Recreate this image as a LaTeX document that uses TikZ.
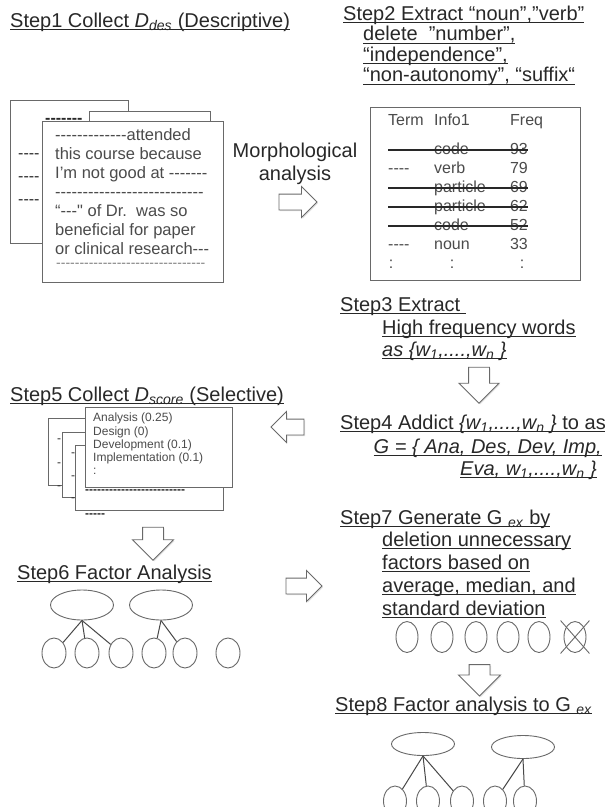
\documentclass[tikz,border=0pt]{standalone}
\usepackage{fontspec}
\setmainfont[Ligatures=TeXOff]{Liberation Sans}
\usetikzlibrary{shapes.geometric, shapes.arrows, shapes.misc, shadows}
\definecolor{ink}{RGB}{40,40,40}
\definecolor{pen}{RGB}{105,105,105}
\definecolor{txtg}{RGB}{75,75,75}
\newcommand{\ulin}[1]{\setbox0=\hbox{#1}\rlap{\rule[-3.4pt]{\wd0}{1.1pt}}\box0}
\newcommand{\wsub}[1]{\textit{w}\textsubscript{\textit{#1}}}
\tikzset{
  ttl/.style  ={anchor=base west, inner sep=0, text=ink, font=\fontsize{20}{23}\selectfont},
  shd/.style  ={drop shadow={shadow xshift=1.2pt, shadow yshift=-1.2pt, opacity=0.22}},
  ppr/.style  ={rectangle, draw=pen, fill=white, line width=0.9pt, inner sep=0, shd},
  ptxt/.style ={anchor=north west, inner sep=0, text=txtg, align=left},
  dsh/.style  ={anchor=base west, inner sep=0, text=ink, font=\fontsize{16}{18}\selectfont},
  cell/.style ={inner sep=0, text=txtg, font=\fontsize{16}{18}\selectfont, text height=11pt, text depth=3pt},
  harr/.style ={single arrow, draw=pen, fill=white, line width=0.9pt,
                single arrow head indent=0pt, shd},
  fac/.style  ={ellipse, draw=pen, line width=0.9pt, inner sep=0, minimum width=63pt, minimum height=30pt},
  obs/.style  ={ellipse, draw=pen, line width=0.9pt, inner sep=0, minimum width=24pt, minimum height=30pt},
  ln/.style   ={draw=ink!85, line width=1pt},
  strk/.style ={draw=ink, line width=1.2pt},
}

\begin{document}
\begin{tikzpicture}[x=1pt, y=-1pt]
\useasboundingbox (0,0) rectangle (605,807);
\fill[white] (0,0) rectangle (605,807);

\node[ttl] (s1) at (10,27) {\ulin{Step1 Collect \textit{D}\textsubscript{\textit{des}} (Descriptive)}};
\node[ppr, minimum width=118pt, minimum height=143pt] (pa) at (69,171.5) {};
\node[dsh] (pad1) at (18,158) {----};
\node[dsh] (pad2) at (18,181) {----};
\node[dsh] (pad3) at (18,204) {----};
\node[ppr, minimum width=121pt, minimum height=159pt] (pb) at (149.5,190.5) {};
\node[dsh, font=\bfseries\fontsize{16}{18}\selectfont] (pbd) at (45,123) {-------};
\node[ppr, minimum width=181pt, minimum height=161pt] (pc) at (132.5,201.5) {};
\node[ptxt, font=\fontsize{16.5}{19}\selectfont] (pct) at (55,128) {-------------attended\\
this course because\\
I’m not good at -------\\
---------------------------\\
“---" of Dr.\ \ was so\\
beneficial for paper\\
or clinical research---};
\node[ptxt, text=gray, font=\fontsize{14}{16}\selectfont] (pcl) at (56,263) {--------------------------------};

\node[anchor=north, inner sep=0, align=center, text=ink, font=\fontsize{20}{23}\selectfont] (morph) at (295,143) {Morphological\\analysis};
\node[harr, inner sep=7.5pt, minimum height=38pt, single arrow head extend=7.5pt] (a1) at (294,202) {};

\node[ttl] (s2a) at (343,20) {\ulin{Step2 Extract “noun”,”verb”}};
\node[ttl] (s2b) at (363,40.5) {\ulin{delete\ \ ”number”,}};
\node[ttl] (s2c) at (363,61) {\ulin{“independence”,}};
\node[ttl] (s2d) at (363,81.5) {\ulin{“non-autonomy”, “suffix“}};
\node[ppr, minimum width=210pt, minimum height=173pt] (tb) at (475,193.5) {};
\node[cell, anchor=west] (h1) at (388,121) {Term};
\node[cell, anchor=west] (h2) at (434,121) {Info1};
\node[cell, anchor=west] (h3) at (510,121) {Freq};
\node[cell, anchor=west] (d1) at (388,150) {----};
\node[cell, anchor=west] (w1) at (434,150) {code};
\node[cell, anchor=east] (n1) at (528,150) {93};
\node[cell, anchor=west] (d2) at (388,169) {----};
\node[cell, anchor=west] (w2) at (434,169) {verb};
\node[cell, anchor=east] (n2) at (528,169) {79};
\node[cell, anchor=west] (d3) at (388,188) {----};
\node[cell, anchor=west] (w3) at (434,188) {particle};
\node[cell, anchor=east] (n3) at (528,188) {69};
\node[cell, anchor=west] (d4) at (388,207) {----};
\node[cell, anchor=west] (w4) at (434,207) {particle};
\node[cell, anchor=east] (n4) at (528,207) {62};
\node[cell, anchor=west] (d5) at (388,226) {----};
\node[cell, anchor=west] (w5) at (434,226) {code};
\node[cell, anchor=east] (n5) at (528,226) {52};
\node[cell, anchor=west] (d6) at (388,245) {----};
\node[cell, anchor=west] (w6) at (434,245) {noun};
\node[cell, anchor=east] (n6) at (528,245) {33};
\node[cell] (e1) at (391,264) {:};
\node[cell] (e2) at (452,264) {:};
\node[cell] (e3) at (522,264) {:};
\draw[strk] (d1.west) -- (n1.east);
\draw[strk] (d3.west) -- (n3.east);
\draw[strk] (d4.west) -- (n4.east);
\draw[strk, line width=1.6pt] (d5.west) -- (n5.east);

\node[ttl] (s3a) at (340,311) {\ulin{Step3 Extract\ }};
\node[ttl] (s3b) at (382,334) {\ulin{High frequency words}};
\node[ttl] (s3c) at (382,356) {\ulin{\textit{as \{\wsub{1},....,\wsub{n} \}}}};
\node[harr, shape border rotate=270, inner sep=10pt, minimum height=36pt, single arrow head extend=9.5pt] (a2) at (479,380) {};

\node[ttl] (s4a) at (340,429) {\ulin{Step4 Addict \textit{\{\wsub{1},....,\wsub{n} \}} to as}};
\node[ttl, anchor=base east] (s4b) at (602,453) {\ulin{\textit{G = \{ Ana, Des, Dev, Imp,}}};
\node[ttl, anchor=base east] (s4c) at (597,475) {\ulin{\textit{Eva, \wsub{1},....,\wsub{n} \}}}};
\node[harr, shape border rotate=180, inner sep=7.5pt, minimum height=33pt, single arrow head extend=7.5pt] (a3) at (291.5,427) {};

\node[ttl] (s5) at (10,401) {\ulin{Step5 Collect \textit{D}\textsubscript{\textit{score}} (Selective)}};
\node[ppr, minimum width=152pt, minimum height=67pt] (qa) at (124,451.5) {};
\node[dsh, font=\fontsize{12}{14}\selectfont] (qat1) at (57,442) {-};
\node[dsh, font=\fontsize{12}{14}\selectfont] (qat2) at (57,466) {-};
\node[dsh, font=\fontsize{12}{14}\selectfont] (qat3) at (57,489) {-};
\node[ppr, minimum width=148pt, minimum height=65pt] (qb) at (136,464.5) {};
\node[dsh, font=\fontsize{12}{14}\selectfont] (qbt1) at (71,456) {-};
\node[dsh, font=\fontsize{12}{14}\selectfont] (qbt2) at (71,479) {-};
\node[dsh, font=\fontsize{12}{14}\selectfont] (qbt3) at (71,501) {-};
\node[ppr, minimum width=148pt, minimum height=65pt] (qc) at (149,477.5) {};
\node[dsh, font=\bfseries\fontsize{12}{14}\selectfont] (qcd) at (85,493) {-------------------------};
\node[dsh, font=\bfseries\fontsize{12}{14}\selectfont] (qce) at (85,517) {-----};
\node[ppr, minimum width=147pt, minimum height=80pt] (qd) at (158.5,447) {};
\node[ptxt, font=\fontsize{12}{13.2}\selectfont] (qdt) at (93,413) {Analysis (0.25)\\
Design (0)\\
Development (0.1)\\
Implementation (0.1)\\
:};
\node[harr, shape border rotate=270, inner sep=10pt, minimum height=33pt, single arrow head extend=10pt] (a4) at (153,538.5) {};

\node[ttl] (s6) at (17,579) {\ulin{Step6 Factor Analysis}};
\node[fac] (f1) at (82,605) {};
\node[fac] (f2) at (161,605) {};
\node[obs] (v1) at (54,653) {};
\node[obs] (v2) at (87,653) {};
\node[obs] (v3) at (121,653) {};
\node[obs] (v4) at (154,653) {};
\node[obs] (v5) at (185,653) {};
\node[obs] (v6) at (228,653) {};
\draw[ln] (f1.south) -- (v1); \draw[ln] (f1.south) -- (v2); \draw[ln] (f1.south) -- (v3);
\draw[ln] (f2.south) -- (v4); \draw[ln] (f2.south) -- (v5);
\node[harr, inner sep=7.5pt, minimum height=36pt, single arrow head extend=7.5pt] (a5) at (300,586) {};

\node[ttl] (s7a) at (340,524) {\ulin{Step7 Generate G \textsubscript{\textit{ex}} by}};
\node[ttl] (s7b) at (382,546) {\ulin{deletion unnecessary}};
\node[ttl] (s7c) at (382,569) {\ulin{factors based on}};
\node[ttl] (s7d) at (382,592) {\ulin{average, median, and}};
\node[ttl] (s7e) at (382,615) {\ulin{standard deviation}};
\node[obs, minimum width=22pt, minimum height=31pt] (c1) at (407,637) {};
\node[obs, minimum width=22pt, minimum height=31pt] (c2) at (442,637) {};
\node[obs, minimum width=22pt, minimum height=31pt] (c3) at (476,637) {};
\node[obs, minimum width=22pt, minimum height=31pt] (c4) at (508,637) {};
\node[obs, minimum width=22pt, minimum height=31pt] (c5) at (539,637) {};
\node[obs, minimum width=22pt, minimum height=31pt] (c6) at (575,637) {};
\node[cross out, draw=pen, line width=0.9pt, inner sep=0, minimum width=28pt, minimum height=32pt] (cx) at (c6) {};
\node[harr, shape border rotate=270, inner sep=10pt, minimum height=28pt, single arrow head extend=10.5pt] (a6) at (479.5,675) {};

\node[ttl] (s8) at (335,711) {\ulin{Step8 Factor analysis to G \textsubscript{\textit{ex}}}};
\node[fac, minimum height=23pt] (g1) at (423,744) {};
\node[fac, minimum height=23pt] (g2) at (523,747) {};
\node[obs, minimum width=23pt] (k1) at (395,801) {};
\node[obs, minimum width=23pt] (k2) at (428,801) {};
\node[obs, minimum width=23pt] (k3) at (462,801) {};
\node[obs, minimum width=23pt] (k4) at (495,801) {};
\node[obs, minimum width=23pt] (k5) at (525,801) {};
\draw[ln] (g1.south) -- (k1); \draw[ln] (g1.south) -- (k2); \draw[ln] (g1.south) -- (k3);
\draw[ln] (g2.south) -- (k4); \draw[ln] (g2.south) -- (k5);
\end{tikzpicture}
\end{document}
